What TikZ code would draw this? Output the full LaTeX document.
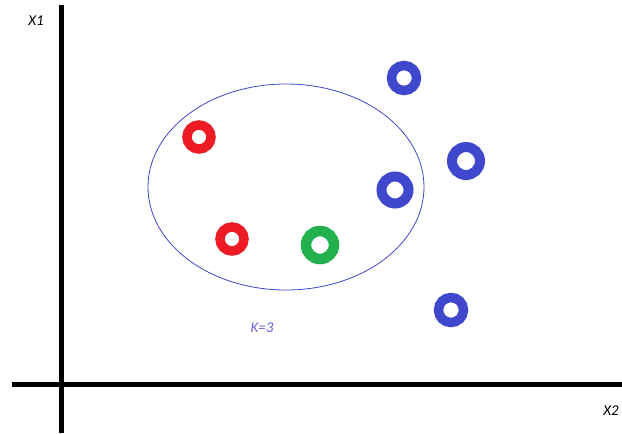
\documentclass[tikz,border=0pt]{standalone}
\usepackage{fontspec}
\setmainfont{Carlito}
\usetikzlibrary{shapes.geometric}
\definecolor{pred}{HTML}{ED1C24}
\definecolor{pgreen}{HTML}{22B14C}
\definecolor{pblue}{HTML}{3F48CC}
\definecolor{klab}{HTML}{6A6AD8}
\begin{document}
\begin{tikzpicture}[x=1pt,y=-1pt,
  ring/.style={circle,draw,line width=9.5pt,minimum size=24pt,inner sep=0pt},
  axis/.style={line width=5pt,black},
  lab/.style={font=\itshape\fontsize{15}{15}\selectfont}]
\useasboundingbox (0,0) rectangle (622,434);
\coordinate (ytop) at (61,5);
\coordinate (ybot) at (61,433);
\coordinate (xl) at (12,384);
\coordinate (xr) at (622,384);
\draw[axis] (ytop) -- (ybot);
\draw[axis] (xl) -- (xr);
\node[lab] (x1) at (36,21) {X1};
\node[lab] (x2) at (611,411) {X2};
\node[lab,text=klab] (k) at (262,328) {K=3};
\node[draw=pblue,line width=0.8pt,ellipse,minimum width=276pt,minimum height=206pt,inner sep=0pt] (ell) at (286,187) {};
\node[ring,draw=pred] (r1) at (199,137) {};
\node[ring,draw=pred] (r2) at (232,239) {};
\node[ring,draw=pgreen,line width=10.5pt,minimum size=28pt] (g1) at (320,245) {};
\node[ring,draw=pblue,minimum size=25pt] (b1) at (404,78) {};
\node[ring,draw=pblue,line width=10pt,minimum size=28pt] (b2) at (466,161) {};
\node[ring,draw=pblue,line width=10pt,minimum size=27pt] (b3) at (395,190) {};
\node[ring,draw=pblue,minimum size=25pt] (b4) at (451,310) {};
\end{tikzpicture}
\end{document}
